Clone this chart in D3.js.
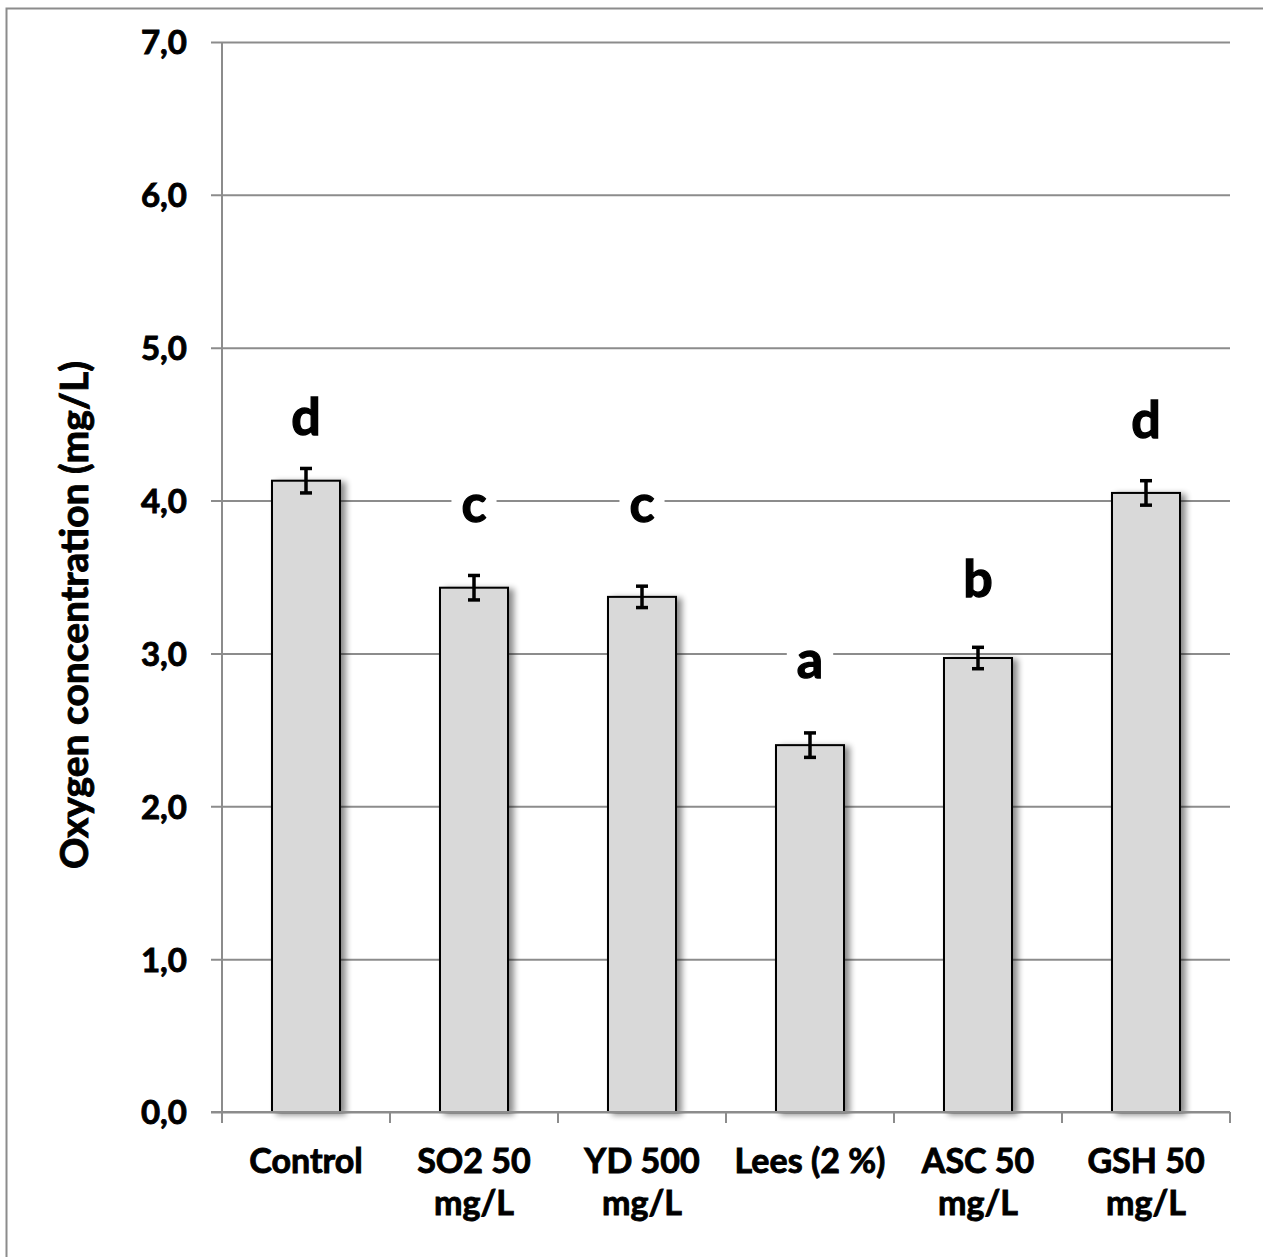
<!DOCTYPE html>
<html>
<head>
<meta charset="utf-8">
<script src="https://cdn.jsdelivr.net/npm/d3@7"></script>
<style>
  body { margin: 0; background: #fff; }
  text { font-family: Lato, "Open Sans", sans-serif; font-weight: bold; fill: #000; stroke: #000; stroke-width: 0.9px; }
</style>
</head>
<body>
<div id="chart"></div>
<script>
// chart data
const categories = [["Control"], ["SO2 50", "mg/L"], ["YD 500", "mg/L"], ["Lees (2 %)"], ["ASC 50", "mg/L"], ["GSH 50", "mg/L"]];
const values = [4.13, 3.43, 3.37, 2.40, 2.97, 4.05];
const errors = [0.08, 0.08, 0.07, 0.08, 0.07, 0.08];
const letters = ["d", "c", "c", "a", "b", "d"];
const letterAt = [4.43, 3.86, 3.86, 2.84, 3.37, 4.41];   // letter baseline, in mg/L
const yTicks = [0, 1, 2, 3, 4, 5, 6, 7];

const WIDTH = 1263;
const HEIGHT = 1257;
const PLOT_L = 222, PLOT_R = 1230, PLOT_T = 42, PLOT_B = 1112;

const svg = d3.select("#chart")
    .append("svg")
    .attr("width", WIDTH)
    .attr("height", HEIGHT);

// drop shadow for bars
const defs = svg.append("defs");
const shadow = defs.append("filter")
    .attr("id", "shadow")
    .attr("x", "-20%").attr("y", "-5%")
    .attr("width", "150%").attr("height", "110%");
shadow.append("feGaussianBlur").attr("in", "SourceAlpha").attr("stdDeviation", 3);
shadow.append("feOffset").attr("dx", 5).attr("dy", 2).attr("result", "blur");
shadow.append("feComponentTransfer").append("feFuncA").attr("type", "linear").attr("slope", 0.45);
const merge = shadow.append("feMerge");
merge.append("feMergeNode");
merge.append("feMergeNode").attr("in", "SourceGraphic");

// outer frame
svg.append("rect")
    .attr("x", 6.5).attr("y", 8.5)
    .attr("width", WIDTH + 50).attr("height", HEIGHT + 50)
    .attr("fill", "none")
    .attr("stroke", "#8c8c8c")
    .attr("stroke-width", 2);

const x = d3.scaleBand()
    .domain(d3.range(categories.length))
    .range([PLOT_L, PLOT_R])
    .paddingInner(0.595)
    .paddingOuter(0.2975);

const y = d3.scaleLinear()
    .domain([0, 7])
    .range([PLOT_B, PLOT_T]);

// gridlines + y axis
const yAxis = d3.axisLeft(y)
    .tickValues(yTicks)
    .tickSize(PLOT_R - PLOT_L + 11)
    .tickFormat(d => d3.format(".1f")(d).replace(".", ","));

const gy = svg.append("g")
    .attr("transform", `translate(${PLOT_R},0)`)
    .call(yAxis);
gy.select(".domain").remove();
gy.selectAll(".tick line")
    .attr("stroke", "#8c8c8c")
    .attr("stroke-width", 2);
gy.selectAll(".tick text")
    .attr("x", -(PLOT_R - PLOT_L) - 35)
    .attr("dy", "0.36em")
    .style("font-size", "33px");

// y axis line
svg.append("line")
    .attr("x1", PLOT_L).attr("x2", PLOT_L)
    .attr("y1", PLOT_T).attr("y2", PLOT_B + 11)
    .attr("stroke", "#8c8c8c")
    .attr("stroke-width", 2);

// x axis ticks at band boundaries
const boundaries = d3.range(categories.length + 1).map(i => PLOT_L + i * x.step());
svg.append("g")
    .selectAll("line")
    .data(boundaries)
    .enter()
    .append("line")
    .attr("x1", d => d).attr("x2", d => d)
    .attr("y1", PLOT_B).attr("y2", PLOT_B + 11)
    .attr("stroke", "#8c8c8c")
    .attr("stroke-width", 2);

// bars
svg.append("g")
    .selectAll("rect")
    .data(values)
    .enter()
    .append("rect")
    .attr("x", (d, i) => x(i))
    .attr("y", d => y(d))
    .attr("width", x.bandwidth())
    .attr("height", d => y(0) - y(d))
    .attr("fill", "#d9d9d9")
    .attr("stroke", "#000")
    .attr("stroke-width", 2)
    .attr("filter", "url(#shadow)");

// redraw axis baseline over bars
svg.append("line")
    .attr("x1", PLOT_L - 11).attr("x2", PLOT_R)
    .attr("y1", PLOT_B).attr("y2", PLOT_B)
    .attr("stroke", "#8c8c8c")
    .attr("stroke-width", 2);

// error bars
const err = svg.append("g")
    .selectAll("g")
    .data(values)
    .enter()
    .append("g")
    .attr("stroke", "#000")
    .attr("stroke-width", 3.5);
const cx = i => x(i) + x.bandwidth() / 2;
err.append("line")
    .attr("x1", (d, i) => cx(i)).attr("x2", (d, i) => cx(i))
    .attr("y1", (d, i) => y(d + errors[i])).attr("y2", (d, i) => y(d - errors[i]));
err.append("line")
    .attr("x1", (d, i) => cx(i) - 6).attr("x2", (d, i) => cx(i) + 6)
    .attr("y1", (d, i) => y(d + errors[i])).attr("y2", (d, i) => y(d + errors[i]));
err.append("line")
    .attr("x1", (d, i) => cx(i) - 6).attr("x2", (d, i) => cx(i) + 6)
    .attr("y1", (d, i) => y(d - errors[i])).attr("y2", (d, i) => y(d - errors[i]));

// significance letters with white box behind
const lab = svg.append("g")
    .selectAll("g")
    .data(letters)
    .enter()
    .append("g");
lab.append("rect").attr("fill", "#fff");
lab.append("text")
    .attr("x", (d, i) => cx(i))
    .attr("y", (d, i) => y(letterAt[i]))
    .attr("text-anchor", "middle")
    .style("font-size", "52px")
    .style("stroke-width", "1.3px")
    .text(d => d);
lab.each(function() {
    const g = d3.select(this);
    const b = g.select("text").node().getBBox();
    g.select("rect")
        .attr("x", b.x - 10).attr("y", b.y)
        .attr("width", b.width + 20).attr("height", b.height);
});

// category labels
const cat = svg.append("g")
    .selectAll("text")
    .data(categories)
    .enter()
    .append("text")
    .attr("x", (d, i) => cx(i))
    .attr("y", 1173)
    .attr("text-anchor", "middle")
    .style("font-size", "34px");
cat.selectAll("tspan")
    .data(d => d)
    .enter()
    .append("tspan")
    .attr("x", function() { return d3.select(this.parentNode).attr("x"); })
    .attr("dy", (d, i) => i === 0 ? 0 : 42)
    .text(d => d);

// y title
svg.append("text")
    .attr("transform", "translate(88,615) rotate(-90)")
    .attr("text-anchor", "middle")
    .style("font-size", "39px")
    .text("Oxygen concentration (mg/L)");
</script>
</body>
</html>
